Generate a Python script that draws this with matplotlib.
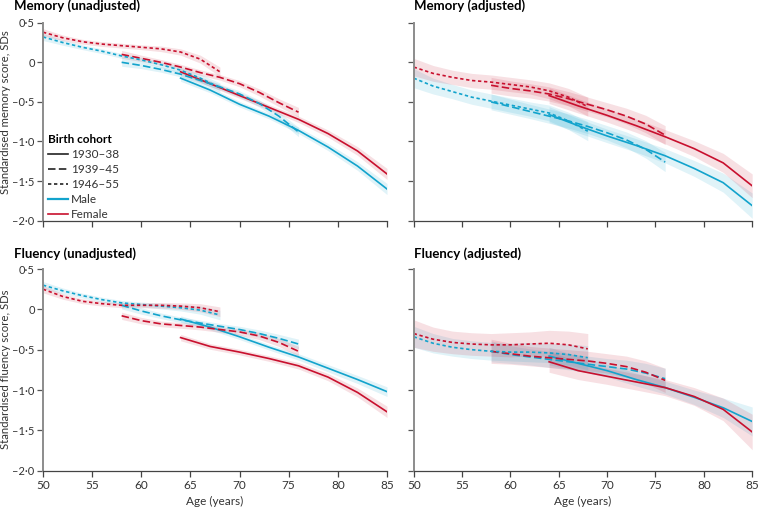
import matplotlib
matplotlib.use("Agg")
import matplotlib.pyplot as plt
from matplotlib.lines import Line2D

plt.rcParams['font.family'] = ['Lato', 'DejaVu Sans']

# ---------------- data ----------------
cohorts = ['1930–38', '1939–45', '1946–55']
ages_1930 = [64, 67, 70, 73, 76, 79, 82, 85]
ages_1939 = [58, 60, 62, 64, 66, 68, 70, 72, 74, 76]
ages_1946 = [50, 52, 54, 56, 58, 60, 62, 64, 66, 68]

# Memory (unadjusted)
mem_unadj_male = [
    [-0.20, -0.35, -0.53, -0.68, -0.86, -1.07, -1.31, -1.60],
    [0.00, -0.04, -0.09, -0.15, -0.23, -0.31, -0.40, -0.52, -0.68, -0.88],
    [0.32, 0.25, 0.19, 0.14, 0.08, 0.03, -0.03, -0.10, -0.20, -0.32],
]
mem_unadj_female = [
    [-0.12, -0.27, -0.42, -0.57, -0.72, -0.90, -1.12, -1.41],
    [0.10, 0.05, 0.00, -0.06, -0.13, -0.19, -0.27, -0.38, -0.51, -0.63],
    [0.38, 0.31, 0.26, 0.23, 0.21, 0.19, 0.17, 0.13, 0.04, -0.12],
]
mem_unadj_ci_male = [
    [0.04, 0.035, 0.035, 0.035, 0.04, 0.045, 0.055, 0.07],
    [0.05, 0.04, 0.035, 0.035, 0.035, 0.035, 0.04, 0.045, 0.05, 0.06],
    [0.045, 0.035, 0.03, 0.03, 0.03, 0.03, 0.035, 0.04, 0.05, 0.06],
]
mem_unadj_ci_female = [
    [0.04, 0.035, 0.035, 0.035, 0.04, 0.045, 0.055, 0.07],
    [0.05, 0.04, 0.035, 0.035, 0.035, 0.035, 0.04, 0.045, 0.05, 0.06],
    [0.045, 0.035, 0.03, 0.03, 0.03, 0.03, 0.035, 0.04, 0.05, 0.06],
]

# Memory (adjusted)
mem_adj_male = [
    [-0.66, -0.80, -0.93, -1.05, -1.18, -1.34, -1.52, -1.81],
    [-0.50, -0.56, -0.62, -0.68, -0.74, -0.81, -0.89, -0.98, -1.10, -1.26],
    [-0.20, -0.30, -0.37, -0.44, -0.49, -0.54, -0.59, -0.64, -0.74, -0.87],
]
mem_adj_female = [
    [-0.42, -0.55, -0.67, -0.80, -0.94, -1.09, -1.27, -1.56],
    [-0.29, -0.33, -0.36, -0.40, -0.46, -0.53, -0.60, -0.68, -0.78, -0.92],
    [-0.06, -0.14, -0.19, -0.23, -0.25, -0.28, -0.31, -0.36, -0.44, -0.56],
]
mem_adj_ci_male = [
    [0.10, 0.09, 0.085, 0.085, 0.09, 0.10, 0.12, 0.16],
    [0.10, 0.095, 0.09, 0.09, 0.09, 0.09, 0.09, 0.10, 0.11, 0.12],
    [0.12, 0.10, 0.09, 0.09, 0.09, 0.09, 0.09, 0.10, 0.11, 0.12],
]
mem_adj_ci_female = [
    [0.10, 0.09, 0.085, 0.085, 0.09, 0.10, 0.12, 0.15],
    [0.10, 0.095, 0.09, 0.09, 0.09, 0.09, 0.09, 0.10, 0.11, 0.12],
    [0.11, 0.10, 0.09, 0.09, 0.09, 0.09, 0.09, 0.10, 0.11, 0.12],
]

# Fluency (unadjusted)
flu_unadj_male = [
    [-0.12, -0.22, -0.34, -0.47, -0.59, -0.73, -0.87, -1.02],
    [0.05, -0.02, -0.08, -0.13, -0.17, -0.21, -0.25, -0.30, -0.36, -0.43],
    [0.30, 0.23, 0.17, 0.12, 0.08, 0.06, 0.04, 0.02, -0.01, -0.07],
]
flu_unadj_female = [
    [-0.35, -0.46, -0.53, -0.61, -0.70, -0.84, -1.03, -1.27],
    [-0.08, -0.14, -0.18, -0.20, -0.22, -0.25, -0.28, -0.33, -0.41, -0.52],
    [0.25, 0.16, 0.10, 0.07, 0.05, 0.05, 0.05, 0.04, 0.02, -0.03],
]
flu_unadj_ci_male = [
    [0.04, 0.035, 0.035, 0.035, 0.04, 0.045, 0.05, 0.06],
    [0.045, 0.04, 0.035, 0.035, 0.035, 0.035, 0.04, 0.045, 0.05, 0.06],
    [0.045, 0.035, 0.03, 0.03, 0.03, 0.03, 0.035, 0.04, 0.05, 0.06],
]
flu_unadj_ci_female = [
    [0.04, 0.035, 0.035, 0.035, 0.04, 0.045, 0.055, 0.07],
    [0.045, 0.04, 0.035, 0.035, 0.035, 0.035, 0.04, 0.045, 0.05, 0.06],
    [0.045, 0.035, 0.03, 0.03, 0.03, 0.03, 0.035, 0.04, 0.05, 0.06],
]

# Fluency (adjusted)
flu_adj_male = [
    [-0.58, -0.67, -0.76, -0.87, -0.97, -1.09, -1.22, -1.39],
    [-0.52, -0.56, -0.59, -0.62, -0.65, -0.68, -0.71, -0.74, -0.79, -0.86],
    [-0.34, -0.42, -0.47, -0.50, -0.52, -0.53, -0.53, -0.54, -0.56, -0.60],
]
flu_adj_female = [
    [-0.65, -0.76, -0.83, -0.90, -0.97, -1.08, -1.24, -1.52],
    [-0.52, -0.55, -0.58, -0.60, -0.62, -0.64, -0.67, -0.71, -0.78, -0.88],
    [-0.30, -0.37, -0.41, -0.43, -0.44, -0.44, -0.43, -0.42, -0.44, -0.49],
]
flu_adj_ci_male = [
    [0.11, 0.09, 0.08, 0.08, 0.08, 0.09, 0.12, 0.18],
    [0.13, 0.11, 0.10, 0.10, 0.10, 0.10, 0.10, 0.11, 0.12, 0.13],
    [0.13, 0.12, 0.11, 0.11, 0.11, 0.11, 0.12, 0.12, 0.13, 0.15],
]
flu_adj_ci_female = [
    [0.13, 0.11, 0.10, 0.10, 0.10, 0.11, 0.14, 0.22],
    [0.15, 0.13, 0.12, 0.12, 0.12, 0.12, 0.12, 0.13, 0.14, 0.15],
    [0.17, 0.15, 0.14, 0.14, 0.14, 0.15, 0.15, 0.16, 0.17, 0.19],
]

panel_titles = ['Memory (unadjusted)', 'Memory (adjusted)',
                'Fluency (unadjusted)', 'Fluency (adjusted)']
ylabels = ['Standardised memory score, SDs', 'Standardised fluency score, SDs']
yticks = [0.5, 0, -0.5, -1.0, -1.5, -2.0]
ytick_labels = ['0·5', '0', '–0·5', '–1·0', '–1·5', '–2·0']
xticks = [50, 55, 60, 65, 70, 75, 80, 85]

# ---------------- style ----------------
MALE = '#12a3cc'
FEMALE = '#c8102e'
cohort_ages = [ages_1930, ages_1939, ages_1946]
styles = ['-', (0, (4.5, 2.0)), (0, (2.0, 1.6))]

panels = [
    (mem_unadj_male, mem_unadj_female, mem_unadj_ci_male, mem_unadj_ci_female),
    (mem_adj_male, mem_adj_female, mem_adj_ci_male, mem_adj_ci_female),
    (flu_unadj_male, flu_unadj_female, flu_unadj_ci_male, flu_unadj_ci_female),
    (flu_adj_male, flu_adj_female, flu_adj_ci_male, flu_adj_ci_female),
]

W, H = 758, 507
fig = plt.figure(figsize=(W / 100, H / 100), dpi=100)

positions = [
    [43 / W, 1 - 220.7 / H, 344 / W, 198 / H],
    [413.7 / W, 1 - 220.7 / H, 338.5 / W, 198 / H],
    [43 / W, 1 - 470.7 / H, 344 / W, 201.7 / H],
    [413.7 / W, 1 - 470.7 / H, 338.5 / W, 201.7 / H],
]

axes = []
for i, (pos, data) in enumerate(zip(positions, panels)):
    ax = fig.add_axes(pos)
    axes.append(ax)
    male, female, ci_m, ci_f = data
    for k in range(3):
        a = cohort_ages[k]
        lo = [v - c for v, c in zip(male[k], ci_m[k])]
        hi = [v + c for v, c in zip(male[k], ci_m[k])]
        ax.fill_between(a, lo, hi, color=MALE, alpha=0.13, lw=0)
        lo = [v - c for v, c in zip(female[k], ci_f[k])]
        hi = [v + c for v, c in zip(female[k], ci_f[k])]
        ax.fill_between(a, lo, hi, color=FEMALE, alpha=0.13, lw=0)
    for k in range(3):
        a = cohort_ages[k]
        ax.plot(a, male[k], color=MALE, ls=styles[k], lw=1.2)
        ax.plot(a, female[k], color=FEMALE, ls=styles[k], lw=1.2)

    ax.set_xlim(50, 85)
    ax.set_ylim(-2.0, 0.5)
    ax.spines['top'].set_visible(False)
    ax.spines['right'].set_visible(False)
    ax.spines['left'].set_color('#8c8c8c')
    ax.spines['left'].set_linewidth(1.4)
    ax.spines['bottom'].set_color('#444444')
    ax.spines['bottom'].set_linewidth(0.9)
    ax.set_yticks(yticks)
    ax.set_xticks(xticks)
    ax.tick_params(axis='y', direction='out', length=4, width=0.9, color='#555555',
                   labelsize=8, pad=2, labelcolor='#333333')
    ax.tick_params(axis='x', direction='out', length=4, width=0.9, color='#444444',
                   labelsize=8.5, pad=3, labelcolor='#333333')
    if i % 2 == 0:
        ax.set_yticklabels(ytick_labels)
    else:
        ax.set_yticklabels([])
    if i >= 2:
        ax.set_xticklabels([str(t) for t in xticks])
        ax.set_xlabel('Age (years)', fontsize=8.5, color='#333333', labelpad=3)
    else:
        ax.set_xticklabels([])

# titles
fig.text(14 / W, 1 - 6 / H, panel_titles[0], fontsize=9.5, fontweight='bold', va='center', ha='left')
fig.text(414 / W, 1 - 6 / H, panel_titles[1], fontsize=9.5, fontweight='bold', va='center', ha='left')
fig.text(14 / W, 1 - 254 / H, panel_titles[2], fontsize=9.5, fontweight='bold', va='center', ha='left')
fig.text(414 / W, 1 - 254 / H, panel_titles[3], fontsize=9.5, fontweight='bold', va='center', ha='left')

# y labels
fig.text(6 / W, 1 - 112 / H, ylabels[0], rotation=90, fontsize=8.2, color='#333333',
         va='center', ha='center')
fig.text(6 / W, 1 - 369 / H, ylabels[1], rotation=90, fontsize=8.2, color='#333333',
         va='center', ha='center')

# legend
handles = [Line2D([], [], color='#222222', ls=styles[k], lw=1.2) for k in range(3)]
handles += [Line2D([], [], color=MALE, lw=1.6), Line2D([], [], color=FEMALE, lw=1.2)]
labels = cohorts + ['Male', 'Female']
leg = axes[0].legend(handles, labels, title='Birth cohort', loc='upper left',
                     bbox_to_anchor=(0.015, 0.44), frameon=False, fontsize=8.5,
                     handlelength=1.7, handletextpad=0.25, labelspacing=0.35,
                     borderpad=0, borderaxespad=0,
                     title_fontproperties={'weight': 'bold', 'size': 8.5})
leg._legend_box.align = 'left'
for t in leg.get_texts():
    t.set_color('#333333')

fig.savefig('out.png', dpi=100)
